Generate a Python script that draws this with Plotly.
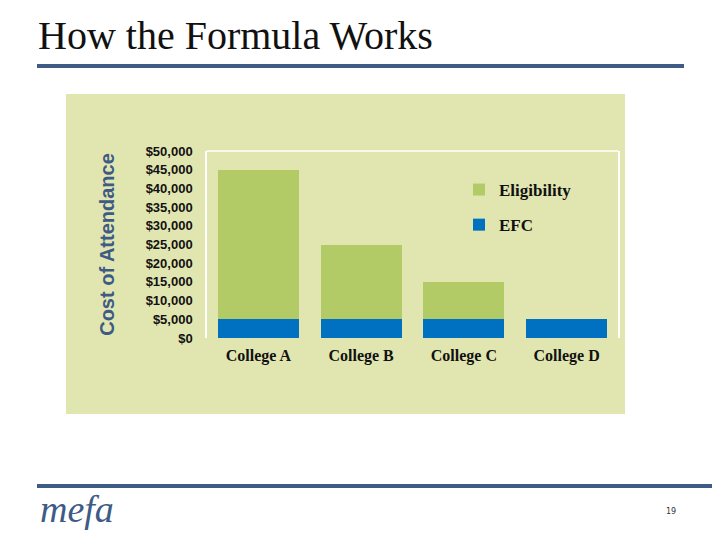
import plotly.graph_objects as go

categories = ["College A", "College B", "College C", "College D"]
efc = [5000, 5000, 5000, 5000]
eligibility = [40000, 20000, 10000, 0]
y_ticks = [0, 5000, 10000, 15000, 20000, 25000, 30000, 35000, 40000, 45000, 50000]
y_tick_labels = ["$0", "$5,000", "$10,000", "$15,000", "$20,000", "$25,000",
                 "$30,000", "$35,000", "$40,000", "$45,000", "$50,000"]

OFF = 8  # page body margin
W, H = 720 - OFF, 540 - OFF
L, R, T, B = 207 - OFF, 618 - OFF, 151 - OFF, 338 - OFF  # plot area in figure pixels

def px(x):
    return (x - OFF - L) / (R - L)

def py(y):
    return (B - (y - OFF)) / (B - T)

PANEL = "#E1E6B0"
NAVY = "#3D5B85"

fig = go.Figure()
fig.add_trace(go.Bar(name="EFC", x=categories, y=efc, marker_color="#0070C0",
                     marker_line_width=0, legendgroup="efc", legendrank=2))
fig.add_trace(go.Bar(name="Eligibility", x=categories, y=eligibility, marker_color="#B3CB66",
                     marker_line_width=0, legendgroup="elig", legendrank=1))

shapes = [
    dict(type="rect", xref="paper", yref="paper", x0=px(66), x1=px(625), y0=py(414), y1=py(94),
         fillcolor=PANEL, line_width=0, layer="below"),
    dict(type="line", xref="paper", yref="paper", x0=0, x1=1, y0=1, y1=1,
         line=dict(color="white", width=1.5)),
    dict(type="line", xref="paper", yref="paper", x0=px(37), x1=px(684), y0=py(66), y1=py(66),
         line=dict(color=NAVY, width=4)),
    dict(type="line", xref="paper", yref="paper", x0=px(37), x1=px(722), y0=py(486), y1=py(486),
         line=dict(color=NAVY, width=4)),
]

annotations = [
    dict(text="How the Formula Works", xref="paper", yref="paper", x=px(36), y=py(35),
         xanchor="left", yanchor="middle", showarrow=False,
         font=dict(family="Liberation Serif", size=40, color="#111111")),
    dict(text="<i>mefa</i>", xref="paper", yref="paper", x=px(38), y=py(509),
         xanchor="left", yanchor="middle", showarrow=False,
         font=dict(family="Liberation Serif", size=38, color=NAVY)),
    dict(text="19", xref="paper", yref="paper", x=px(671), y=py(511),
         xanchor="center", yanchor="middle", showarrow=False,
         font=dict(family="DejaVu Sans", size=8, color="#333333")),
]

fig.update_layout(
    width=W, height=H,
    margin=dict(l=L, r=W - R, t=T, b=H - B, autoexpand=False),
    paper_bgcolor="white",
    plot_bgcolor=PANEL,
    barmode="stack",
    bargap=0.21,
    showlegend=True,
    legend=dict(x=px(459), y=py(172), xanchor="left", yanchor="top",
                traceorder="grouped", tracegroupgap=10,
                bgcolor="rgba(0,0,0,0)", itemwidth=30,
                font=dict(family="Liberation Serif", size=17, color="#111111", weight="bold")),
    shapes=shapes,
    annotations=annotations,
    xaxis=dict(showgrid=False, showline=False, zeroline=False, ticks="",
               ticklabelstandoff=6,
               tickfont=dict(family="Liberation Serif", size=16, color="#111111", weight="bold")),
    yaxis=dict(range=[0, 50000], tickvals=y_ticks, ticktext=y_tick_labels,
               showgrid=False, zeroline=False, ticks="",
               showline=True, linecolor="white", linewidth=1.5, mirror=True,
               ticklabelstandoff=10,
               tickfont=dict(family="Liberation Sans", size=13, color="#111111", weight="bold"),
               title=dict(text="Cost of Attendance", standoff=26,
                          font=dict(family="Liberation Sans", size=20, color=NAVY, weight="bold"))),
)

fig.write_html("out.html")
